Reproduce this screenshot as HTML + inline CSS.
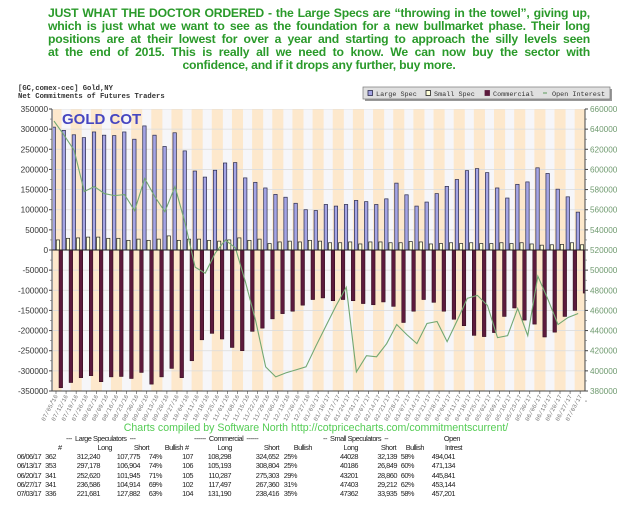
<!DOCTYPE html>
<html><head><meta charset="utf-8"><style>
body{margin:0;background:#fff;width:630px;height:507px;overflow:hidden;position:relative;font-family:"Liberation Sans",sans-serif}
#title{position:absolute;left:48px;top:7px;width:542px;color:#2a9a2a;font-weight:bold;font-size:12.2px;letter-spacing:-0.2px;line-height:13px}
#title div{text-align:justify;text-align-last:justify;white-space:nowrap}
#title div.c{text-align:center;text-align-last:center}
#tbl span{position:absolute;font-family:"Liberation Sans",sans-serif;font-size:7.4px;letter-spacing:-0.5px;color:#222;white-space:pre}
#tbl span.d{font-size:7.4px;letter-spacing:-0.6px}
</style></head><body>
<div id="title"><div>JUST WHAT THE DOCTOR ORDERED -  the Large Specs are “throwing in the towel”, giving up,</div><div>which is just what we want to see as the foundation for a new bullmarket phase. Their long</div><div>positions are at their lowest for over a year and starting to approach the silly levels seen</div><div>at the end of 2015. This is really all we need to know. We can now buy the sector with</div><div class="c">confidence, and if it drops any further, buy more.</div></div>
<svg id="chart" width="630" height="507" style="position:absolute;left:0;top:0"></svg>
<div id="tbl"></div>
<script>
const dates=["07/05/16","07/12/16","07/19/16","07/26/16","08/02/16","08/09/16","08/16/16","08/23/16","08/30/16","09/06/16","09/13/16","09/20/16","09/27/16","10/04/16","10/11/16","10/18/16","10/25/16","11/01/16","11/08/16","11/15/16","11/22/16","11/29/16","12/06/16","12/13/16","12/20/16","12/27/16","01/03/17","01/10/17","01/17/17","01/24/17","01/31/17","02/07/17","02/14/17","02/21/17","02/28/17","03/07/17","03/14/17","03/21/17","03/28/17","04/04/17","04/11/17","04/18/17","04/25/17","05/02/17","05/09/17","05/16/17","05/23/17","05/30/17","06/06/17","06/13/17","06/20/17","06/27/17","07/03/17"];
const largeSpec=[305000,297000,286000,279000,293000,285000,284000,293000,275000,308000,285000,257000,291000,246000,196000,181000,198000,216000,217000,179000,168000,154000,138000,131000,116000,100000,98000,113000,109000,113000,123000,120000,113000,127000,166000,137000,109000,119000,140000,158000,175000,197000,202000,192000,154000,129000,163000,169000,204000,190000,151000,132000,94000];
const smallSpec=[25000,29000,30000,32000,32000,29000,29000,24000,27000,24000,27000,35000,24000,27000,27000,24000,22000,25000,30000,24000,27000,16000,20000,22000,20000,24000,22000,18000,18000,20000,15000,20000,20000,18000,18000,21000,20000,15000,16000,18000,16000,18000,16000,16000,18000,16000,18000,15000,12000,13000,14000,18000,13000];
const commercial=[-342000,-329000,-317000,-312000,-327000,-315000,-314000,-319000,-304000,-333000,-315000,-294000,-317000,-275000,-223000,-207000,-221000,-242000,-250000,-202000,-194000,-171000,-158000,-152000,-137000,-123000,-119000,-126000,-123000,-126000,-133000,-136000,-129000,-140000,-180000,-152000,-123000,-130000,-152000,-172000,-188000,-212000,-215000,-205000,-165000,-144000,-174000,-184000,-216000,-204000,-165000,-150000,-107000];
const openInterest=[648000,634000,619000,578000,583000,576000,574000,575000,559000,591000,573000,558000,583000,547000,503000,497000,517000,530000,522000,488000,450000,404000,394000,398000,401000,404000,425000,445000,465000,483000,399000,415000,414000,427000,446000,436000,427000,447000,449000,429000,450000,472000,475000,465000,433000,435000,462000,435000,494000,471000,446000,453000,457000];
const leftTicks=[350000,300000,250000,200000,150000,100000,50000,0,-50000,-100000,-150000,-200000,-250000,-300000,-350000];
const rightTicks=[660000,640000,620000,600000,580000,560000,540000,520000,500000,480000,460000,440000,420000,400000,380000];

const NS="http://www.w3.org/2000/svg",svg=document.getElementById('chart');
const PL=52,PR=585,PT=109,PB=391,STEP=10.08;
const yL=v=>PT+(350000-v)/700000*(PB-PT);
const yR=v=>PT+(660000-v)/280000*(PB-PT);
const xG=i=>PL+i*STEP;
function mk(t,a,p){const e=document.createElementNS(NS,t);for(const k in a)e.setAttribute(k,a[k]);(p||svg).appendChild(e);return e;}

const defs=mk('defs',{});const cp=mk('clipPath',{id:'pc'},defs);mk('rect',{x:PL+1,y:PT,width:PR-PL-1,height:PB-PT},cp);
const bg=mk('rect',{x:PL,y:PT,width:PR-PL,height:PB-PT,fill:'#f6f6f9'});


const g=mk('g',{'clip-path':'url(#pc)'});
for(let i=0;i<dates.length;i+=2){const s=mk('rect',{x:xG(i)-1.5,y:PT,width:STEP+1,height:PB-PT,fill:'#fde8cc'},g);

}
leftTicks.forEach(v=>{mk('line',{x1:PL,x2:PR,y1:yL(v),y2:yL(v),stroke:'#dcdcdc','stroke-width':0.8},g);});
const y0=yL(0);
dates.forEach((d,i)=>{
 const x=xG(i);
 const a=mk('rect',{x:x,y:yL(largeSpec[i]),width:3.4,height:y0-yL(largeSpec[i]),fill:'#a4a4e4',stroke:'#2a2a4a','stroke-width':0.7},g);
 
 
 const b=mk('rect',{x:x+4.3,y:yL(smallSpec[i]),width:3.2,height:y0-yL(smallSpec[i]),fill:'#ffffd8',stroke:'#222','stroke-width':0.7},g);
 
 
 const c=mk('rect',{x:x+7,y:y0,width:3.6,height:yL(commercial[i])-y0,fill:'#5c1a3c',stroke:'#2a0818','stroke-width':0.5},g);
 
 
});
const pts=openInterest.map((v,i)=>(xG(i)+2)+','+yR(v)).join(' ');
const ln=mk('polyline',{points:pts,fill:'none',stroke:'#72a872','stroke-width':1.1},g);


mk('line',{x1:PL,x2:PR,y1:y0,y2:y0,stroke:'#222','stroke-width':1});
mk('line',{x1:PL,x2:PL,y1:PT,y2:PB,stroke:'#444','stroke-width':1});
mk('line',{x1:PR,x2:PR,y1:PT,y2:PB,stroke:'#444','stroke-width':1});
mk('line',{x1:PL,x2:PR,y1:PB,y2:PB,stroke:'#444','stroke-width':1});
leftTicks.forEach(v=>{const y=yL(v);mk('line',{x1:PL-3,x2:PL,y1:y,y2:y,stroke:'#444'});
 mk('line',{x1:PL-2,x2:PL,y1:y+10.07,y2:y+10.07,stroke:'#666','stroke-width':0.6});
 const t=mk('text',{x:PL-4,y:y+3,'text-anchor':'end','font-size':8.2,fill:'#333','font-family':'Liberation Sans, sans-serif'});t.textContent=v;
 
 });
rightTicks.forEach(v=>{const y=yR(v);mk('line',{x1:PR,x2:PR+3,y1:y,y2:y,stroke:'#444'});
 mk('line',{x1:PR,x2:PR+2,y1:y+10.07,y2:y+10.07,stroke:'#666','stroke-width':0.6});
 const t=mk('text',{x:PR+5,y:y+3,'font-size':8.2,fill:'#6f9a6f','font-family':'Liberation Sans, sans-serif'});t.textContent=v;
 
 });
dates.forEach((d,i)=>{const x=xG(i)+4;mk('line',{x1:x,x2:x,y1:PB,y2:PB+3,stroke:'#444','stroke-width':0.6});
 const t=mk('text',{x:x+2,y:PB+5,'text-anchor':'end','font-size':6,fill:'#777','font-family':'Liberation Mono, monospace',transform:`rotate(-62 ${x+2} ${PB+5})`});t.textContent=d;
 
 });
function txt(s,a,name,p){const t=mk('text',a,p);t.textContent=s;return t;}
txt('GOLD COT',{x:62,y:124,'font-size':15,'font-weight':'bold',fill:'#4646c0','font-family':'Liberation Sans, sans-serif'},'chart-watermark');
txt('[GC,comex-cec] Gold,NY',{x:18,y:90,'font-size':7.2,'font-weight':'bold',fill:'#333','font-family':'Liberation Mono, monospace'},'instrument-label');
txt('Net Commitments of Futures Traders',{x:18,y:98,'font-size':7.2,'font-weight':'bold',fill:'#333','font-family':'Liberation Mono, monospace'},'chart-subtitle');
const lg=mk('g',{});
mk('rect',{x:365,y:89,width:247,height:12,fill:'#999'},lg);
mk('rect',{x:363,y:87,width:247,height:12,fill:'#e0e0e0',stroke:'#777','stroke-width':0.7},lg);
const L=[['Large Spec',368,'#a4a4e4','#2a2a4a'],['Small Spec',426,'#ffffd8','#222'],['Commercial',485,'#5c1a3c','#5c1a3c']];
L.forEach(([n,x,f,s])=>{mk('rect',{x:x,y:90.5,width:4.5,height:5,fill:f,stroke:s,'stroke-width':0.8},lg);
 txt(n,{x:x+8,y:96,'font-size':6.8,fill:'#333','font-family':'Liberation Mono, monospace'},'legend-entry',lg);});
mk('line',{x1:543,x2:547,y1:93,y2:93,stroke:'#72a872','stroke-width':1.2},lg);
txt('Open Interest',{x:552,y:96,'font-size':6.8,fill:'#333','font-family':'Liberation Mono, monospace'},'legend-entry',lg);
txt('Charts compiled by Software North  http://cotpricecharts.com/commitmentscurrent/',{x:316,y:431,'text-anchor':'middle','font-size':10.6,fill:'#55cc55','font-family':'Liberation Sans, sans-serif'},'credit-line');

const tblRows=[
 ["06/06/17","362","312,240","107,775","74%","107","108,298","324,652","25%","44028","32,139","58%","494,041"],
 ["06/13/17","353","297,178","106,904","74%","106","105,193","308,804","25%","40186","26,849","60%","471,134"],
 ["06/20/17","341","252,620","101,945","71%","105","110,287","275,303","29%","43201","28,860","60%","445,841"],
 ["06/27/17","341","236,586","104,914","69%","102","117,497","267,360","31%","47403","29,212","62%","453,144"],
 ["07/03/17","336","221,681","127,882","63%","104","131,190","238,416","35%","47362","33,935","58%","457,201"]];
const colR=[17,56,100,140,162,193,231,279,297,358,397,414,455];
const tb=document.getElementById('tbl');
function sp(s,x,y,right,cls){const e=document.createElement('span');e.textContent=s;e.style.top=(y-8)+'px';if(cls)e.className=cls;
 if(right){e.style.right=(630-x)+'px';}else e.style.left=x+'px';tb.appendChild(e);return e;}
sp('---  Large Speculators  ---',66,442);sp('------  Commercial  ------',194,442);sp('--  Small Speculators  --',323,442);sp('Open',460,442,true);
['#','Long','Short','Bullish','#','Long','Short','Bullish','Long','Short','Bullish','Intrest'].forEach((h,k)=>{
 const xs=[62,112,149,183,189,232,279,312,358,396,424,462];
 if(h==='#'){sp(h,xs[k]-4,451);}else sp(h,xs[k],451,true);});
tblRows.forEach((r,ri)=>{const y=460+ri*9.3;r.forEach((c,k)=>{if(k===0)sp(c,17,y,false,'d');else sp(c,colR[k],y,true);});});
</script>
</body></html>
